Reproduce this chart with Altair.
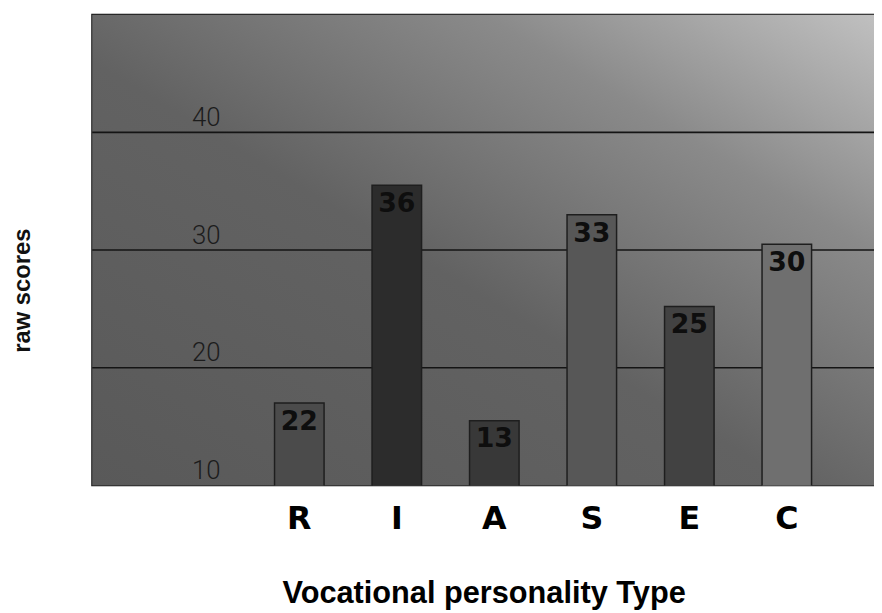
import altair as alt
import pandas as pd

# ---- data ----
types = ["R", "I", "A", "S", "E", "C"]
bar_values = [17, 35.5, 15.5, 33, 25.2, 30.5]          # drawn bar heights
label_values = ["22", "36", "13", "33", "25", "30"]     # printed labels
bar_colors = ["#4b4b4b", "#2c2c2c", "#383838", "#575757", "#424242", "#6f6f6f"]
grid_ticks = [20, 30, 40]
y_ticks = [10, 20, 30, 40]
y_domain = [10, 50]

W, H = 789, 475

bars_df = pd.DataFrame({"type": types, "score": bar_values, "label": label_values})
grid_df = pd.DataFrame({"score": grid_ticks})
bg_df = pd.DataFrame({"a": [0]})

yscale = alt.Scale(domain=y_domain, nice=False, zero=False)
xscale = alt.Scale(domain=types, paddingInner=0.492, paddingOuter=0, range=[184, 726])

bg = alt.Chart(bg_df).mark_rect(
    color={
        "gradient": "linear", "x1": 0, "y1": 1, "x2": 1, "y2": 0,
        "stops": [
            {"offset": 0, "color": "#595959"},
            {"offset": 0.45, "color": "#626262"},
            {"offset": 0.75, "color": "#8a8a8a"},
            {"offset": 1, "color": "#c0c0c0"},
        ],
    }
).encode(x=alt.value(0), x2=alt.value(W), y=alt.value(0), y2=alt.value(H))

grid = alt.Chart(grid_df).mark_rule(color="#141414", strokeWidth=1.6).encode(
    y=alt.Y("score:Q", scale=yscale),
    x=alt.value(0), x2=alt.value(W),
)

x_enc = alt.X(
    "type:N", scale=xscale, sort=types,
    axis=alt.Axis(
        title="Vocational personality Type", labelAngle=0, ticks=False, tickSize=0,
        domain=False, grid=False, labelPadding=34, labelBaseline="middle",
        labelFontSize=32, labelFont="DejaVu Sans", labelFontWeight="bold",
        labelColor="#000000",
        titleX=395, titleY=109, titleBaseline="middle", titleFontSize=31,
        titleFont="Liberation Sans", titleFontWeight="bold", titleColor="#000000",
    ),
)

bars = alt.Chart(bars_df).mark_bar(clip=True, stroke="#1e1e1e", strokeWidth=1.5).encode(
    x=x_enc,
    y=alt.Y(
        "score:Q", scale=yscale,
        axis=alt.Axis(
            values=y_ticks, grid=False, ticks=False, tickSize=0, domain=False,
            labelPadding=-129, labelAlign="right", labelBaseline="alphabetic",
            labelOffset=-7, labelFontSize=26, labelFont="Roboto", labelFontWeight=300,
            labelColor="#1c1c1c", labelFlush=False,
            title="raw scores", titleX=-70, titleY=278, titleAngle=270,
            titleBaseline="middle", titleAlign="center", titleFontSize=24,
            titleFont="Liberation Sans", titleFontWeight="bold", titleColor="#111111",
            zindex=1,
        ),
    ),
    color=alt.Color("type:N", scale=alt.Scale(domain=types, range=bar_colors), legend=None),
)

labels = alt.Chart(bars_df).mark_text(
    baseline="top", dy=6, fontSize=27, fontWeight="bold", font="DejaVu Sans",
    color="#0e0e0e",
).encode(
    x=alt.X("type:N", scale=xscale, sort=types),
    y=alt.Y("score:Q", scale=yscale),
    text="label:N",
)

chart = alt.layer(bg, grid, bars, labels).properties(
    width=W, height=H,
    autosize="none",
    padding={"left": 85, "top": 4, "right": 0, "bottom": 124},
    background="#ffffff",
).configure_view(stroke="#111111", strokeWidth=2)

chart.save("out.html", embed_options={"renderer": "svg", "actions": False})
